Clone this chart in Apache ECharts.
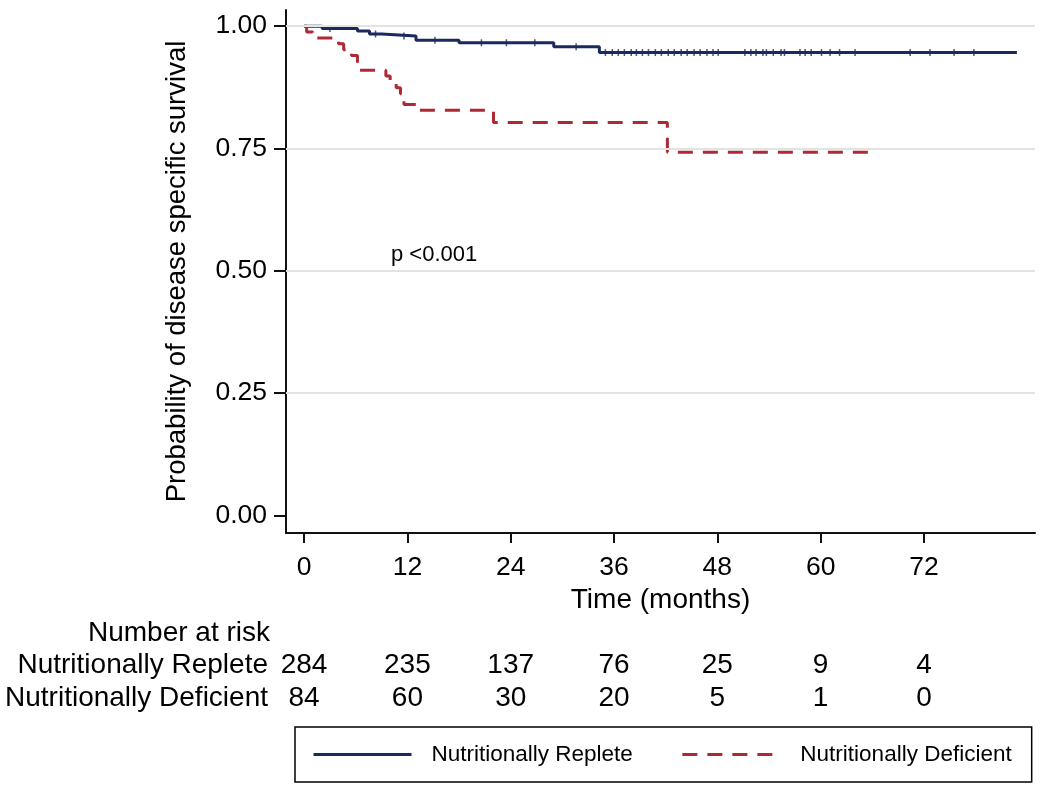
<!DOCTYPE html>
<html>
<head>
<meta charset="utf-8">
<script src="https://cdn.jsdelivr.net/npm/echarts@6/dist/echarts.min.js"></script>
<style>
  html, body { margin: 0; padding: 0; background: #fff; }
  #chart { width: 1050px; height: 789px; }
</style>
</head>
<body>
<div id="chart"></div>
<script>
// ---------- data ----------
const xTicks = [0, 12, 24, 36, 48, 60, 72];
const yTicks = [0, 0.25, 0.5, 0.75, 1];
const gridValues = [0.25, 0.5, 0.75, 1];

const repleteTimes = [0, 2.1, 6.2, 7.6, 9.0, 13.0, 18.0, 29.0, 34.3, 82.8];
const repleteSurv  = [1.0, 0.995, 0.990, 0.984, 0.980, 0.971, 0.966, 0.958, 0.946, 0.946];

const deficientTimes = [0, 0.3, 1.0, 4.0, 4.6, 5.5, 6.2, 9.5, 10.0, 10.7, 11.2, 11.6, 13.4, 22.0, 42.2, 66.5];
const deficientSurv  = [1.0, 0.988, 0.976, 0.964, 0.952, 0.940, 0.910, 0.898, 0.886, 0.874, 0.862, 0.840, 0.828, 0.803, 0.742, 0.742];

const censorReplete = [3, 8.3, 11.6, 15.2, 20.6, 23.5, 26.8, 31.6,
  35, 35.8, 36.5, 37.2, 38, 38.6, 39.3, 40, 40.8, 41.5, 42.3, 43, 43.8, 44.5, 45.3, 46, 46.8,
  47.5, 48.1, 51.2, 51.9, 52.5, 53.3, 53.7, 54.5, 55.4, 55.8, 57.6, 58.2, 58.9, 60.1, 61.1, 62.2, 64.0,
  70.4, 72.7, 75.5, 77.8];

const riskReplete = [284, 235, 137, 76, 25, 9, 4];
const riskDeficient = [84, 60, 30, 20, 5, 1, 0];

const seriesNames = ['Nutritionally Replete', 'Nutritionally Deficient'];
const riskTitle = 'Number at risk';
const pText = 'p <0.001';

// ---------- build ----------
const FONT = '"Liberation Sans", Arial, Helvetica, sans-serif';
const BLUE = '#1b2a5e';
const RED = '#ad2a35';
const X_MIN = -2.1, X_MAX = 84.9;

function pairs(t, s) { return t.map((v, i) => [v, s[i]]); }
function stepValue(t, s, x) {
  let v = s[0];
  for (let i = 0; i < t.length; i++) { if (t[i] <= x) v = s[i]; }
  return v;
}

function riskAxis(name, values, offset) {
  return {
    type: 'value', gridIndex: 0, position: 'bottom', offset: offset,
    min: X_MIN, max: X_MAX,
    axisLine: { show: false, onZero: false }, axisTick: { show: false }, splitLine: { show: false },
    axisLabel: {
      customValues: xTicks, margin: 0, verticalAlign: 'middle',
      fontFamily: FONT, fontSize: 28, color: '#000',
      formatter: v => String(values[xTicks.indexOf(Math.round(v))])
    },
    name: name, nameLocation: 'start', nameGap: 18,
    nameTextStyle: { fontFamily: FONT, fontSize: 28, color: '#000', verticalAlign: 'middle' }
  };
}

const chart = echarts.init(document.getElementById('chart'), null, { renderer: 'canvas' });
chart.setOption({
  animation: false,
  backgroundColor: '#fff',
  grid: { left: 286, right: 15, top: 10, bottom: 256, containLabel: false, outerBoundsMode: 'none' },
  xAxis: [
    {
      type: 'value', min: X_MIN, max: X_MAX,
      axisLine: { show: true, onZero: false, lineStyle: { color: '#111', width: 2 } },
      axisTick: { show: true, customValues: xTicks, length: 10, lineStyle: { color: '#111', width: 2 } },
      axisLabel: { customValues: xTicks, margin: 21, fontFamily: FONT, fontSize: 26.5, color: '#000' },
      splitLine: { show: false },
      name: 'Time (months)', nameLocation: 'middle', nameGap: 52,
      nameTextStyle: { fontFamily: FONT, fontSize: 28, color: '#000' }
    },
    riskAxis(seriesNames[0], riskReplete, 132),
    riskAxis(seriesNames[1], riskDeficient, 165)
  ],
  yAxis: {
    type: 'value', min: -0.036, max: 1.033,
    axisLine: { show: true, onZero: false, lineStyle: { color: '#111', width: 2 } },
    axisTick: { show: true, customValues: yTicks, length: 12, lineStyle: { color: '#111', width: 2 } },
    axisLabel: { customValues: yTicks, margin: 19, fontFamily: FONT, fontSize: 26.5, color: '#000',
      formatter: v => v.toFixed(2) },
    splitLine: { show: false },
    name: 'Probability of disease specific survival', nameLocation: 'middle', nameGap: 95, nameRotate: 90,
    nameTextStyle: { fontFamily: FONT, fontSize: 27.5, color: '#000' }
  },
  legend: {
    data: seriesNames,
    left: 295, top: 727,
    padding: [16, 20, 16, 17],
    itemGap: 48, itemWidth: 98, itemHeight: 22,
    borderColor: '#000', borderWidth: 1.5, borderRadius: 0,
    itemStyle: { opacity: 0 },
    lineStyle: { width: 3 },
    textStyle: { fontFamily: FONT, fontSize: 22.5, color: '#000', padding: [0, 0, 0, 15] }
  },
  graphic: [
    { type: 'text', x: 270, y: 633, style: { text: riskTitle, align: 'right', verticalAlign: 'middle',
      font: '28px ' + FONT, fill: '#000' } },
    { type: 'text', x: 391, y: 255, style: { text: pText, align: 'left', verticalAlign: 'middle',
      font: '22px ' + FONT, fill: '#000' } }
  ],
  series: [
    {
      name: '_grid', type: 'line', data: [], silent: true, z: 0,
      markLine: {
        silent: true, symbol: ['none', 'none'], label: { show: false },
        lineStyle: { color: '#e3e3e3', width: 2, type: 'solid' },
        data: gridValues.map(v => ({ yAxis: v }))
      }
    },
    {
      name: seriesNames[0], type: 'line', step: 'end', symbol: 'none', z: 3,
      data: pairs(repleteTimes, repleteSurv),
      lineStyle: { color: BLUE, width: 3 }, itemStyle: { color: BLUE }
    },
    {
      name: seriesNames[1], type: 'line', step: 'end', symbol: 'none', z: 3,
      data: pairs(deficientTimes, deficientSurv),
      lineStyle: { color: RED, width: 3, type: [15, 10] }, itemStyle: { color: RED }
    },
    {
      name: '_censor', type: 'scatter', symbol: 'rect', symbolSize: [1.5, 7], z: 4, silent: true,
      itemStyle: { color: BLUE },
      data: censorReplete.map(t => [t, stepValue(repleteTimes, repleteSurv, t)])
    }
  ]
});
</script>
</body>
</html>
